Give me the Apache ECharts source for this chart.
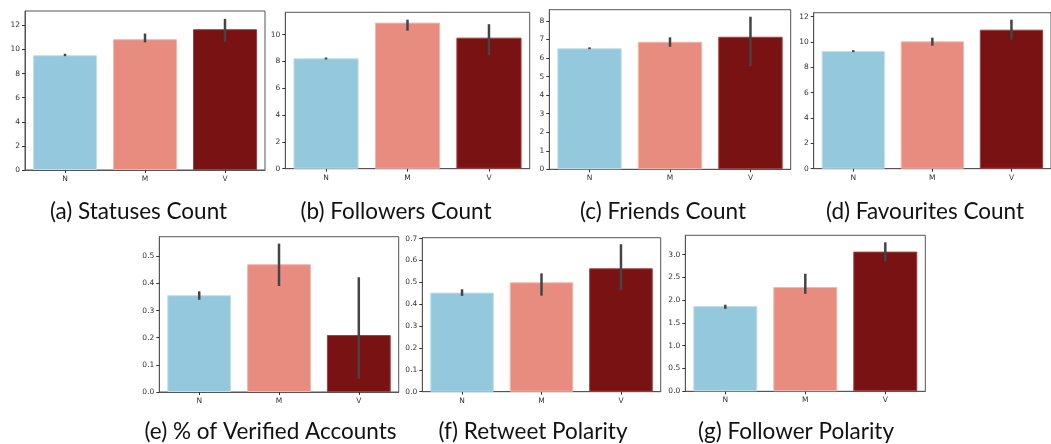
<!DOCTYPE html>
<html>
<head>
<meta charset="utf-8">
<script src="https://cdn.jsdelivr.net/npm/echarts@6/dist/echarts.min.js"></script>
<style>
html,body{margin:0;padding:0;background:#fff;}
#chart{width:1051px;height:444px;}
</style>
</head>
<body>
<div id="chart"></div>
<script>
// ---- data ----
const categories = ['N', 'M', 'V'];

const statusesMean = [9.53, 10.86, 11.69];
const statusesLow  = [9.45, 10.60, 10.64];
const statusesHigh = [9.65, 11.33, 12.55];

const followersMean = [8.24, 10.90, 9.78];
const followersLow  = [8.15, 10.30, 8.49];
const followersHigh = [8.30, 11.12, 10.78];

const friendsMean = [6.53, 6.88, 7.15];
const friendsLow  = [6.48, 6.61, 5.57];
const friendsHigh = [6.58, 7.12, 8.23];

const favouritesMean = [9.29, 10.05, 10.97];
const favouritesLow  = [9.20, 9.71, 10.18];
const favouritesHigh = [9.35, 10.34, 11.76];

const verifiedMean = [0.357, 0.471, 0.210];
const verifiedLow  = [0.340, 0.391, 0.049];
const verifiedHigh = [0.371, 0.547, 0.423];

const retweetMean = [0.453, 0.500, 0.564];
const retweetLow  = [0.438, 0.439, 0.464];
const retweetHigh = [0.468, 0.541, 0.674];

const followerPolMean = [1.873, 2.29, 3.066];
const followerPolLow  = [1.81, 2.14, 2.85];
const followerPolHigh = [1.90, 2.58, 3.27];

const captions = [
  '(a) Statuses Count', '(b) Followers Count', '(c) Friends Count', '(d) Favourites Count',
  '(e) % of Verified Accounts', '(f) Retweet Polarity', '(g) Follower Polarity'
];

const yMaxes = [13.2, 11.67, 8.61, 12.31, 0.5725, 0.704, 3.424];
const yIntervals = [2, 2, 1, 2, 0.1, 0.1, 0.5];
const yDecimals = [0, 0, 0, 0, 1, 1, 1];

// ---- layout / style ----
const panels = [
  {mean: statusesMean, low: statusesLow, high: statusesHigh},
  {mean: followersMean, low: followersLow, high: followersHigh},
  {mean: friendsMean, low: friendsLow, high: friendsHigh},
  {mean: favouritesMean, low: favouritesLow, high: favouritesHigh},
  {mean: verifiedMean, low: verifiedLow, high: verifiedHigh},
  {mean: retweetMean, low: retweetLow, high: retweetHigh},
  {mean: followerPolMean, low: followerPolLow, high: followerPolHigh}
];
const gridBoxes = [
  {left: 25, top: 11, width: 240, height: 159},
  {left: 285.3, top: 12.3, width: 244.4, height: 156.4},
  {left: 549.3, top: 9.7, width: 241.4, height: 159.6},
  {left: 813.7, top: 12.7, width: 241, height: 156},
  {left: 159.3, top: 236.7, width: 239.4, height: 155.3},
  {left: 422.3, top: 237.7, width: 238.4, height: 154},
  {left: 685.3, top: 235.3, width: 240, height: 156}
];
const captionPos = [
  [138.5, 212], [396, 212], [663, 212], [925, 212],
  [270.5, 432], [533, 432], [796, 432]
];
const barColors = ['#94c8dd', '#e88c80', '#791212'];
const edgeColors = ['#bfe0ec', '#f3b7ae', '#a04040'];

const grids = [], xAxes = [], yAxes = [], series = [], graphics = [];
panels.forEach((p, i) => {
  grids.push(Object.assign({show: true, borderColor: '#555', borderWidth: 1, backgroundColor: 'transparent'}, gridBoxes[i]));
  xAxes.push({
    type: 'category', gridIndex: i, data: categories,
    axisLine: {show: true, lineStyle: {color: '#555', width: 1}},
    axisTick: {show: true, alignWithLabel: true, length: 3, lineStyle: {color: '#333'}},
    axisLabel: {fontFamily: 'DejaVu Sans', fontSize: 7.5, color: '#333', margin: 5}
  });
  yAxes.push({
    type: 'value', gridIndex: i, min: 0, max: yMaxes[i], interval: yIntervals[i],
    splitLine: {show: false},
    axisLine: {show: true, lineStyle: {color: '#555', width: 1}},
    axisTick: {show: true, length: 3, lineStyle: {color: '#333'}},
    axisLabel: {
      fontFamily: 'DejaVu Sans', fontSize: 7.5, color: '#333', margin: 5, showMaxLabel: false,
      formatter: (v) => v.toFixed(yDecimals[i])
    }
  });
  series.push({
    type: 'bar', xAxisIndex: i, yAxisIndex: i, barCategoryGap: '20%',
    data: p.mean.map((v, k) => ({value: v, itemStyle: {color: barColors[k], borderColor: edgeColors[k], borderWidth: 1}})),
    silent: true, animation: false
  });
  series.push({
    type: 'custom', xAxisIndex: i, yAxisIndex: i, silent: true, animation: false, z: 5,
    data: p.mean.map((v, k) => [k, p.low[k], p.high[k]]),
    renderItem: (params, api) => {
      const a = api.coord([api.value(0), api.value(1)]);
      const b = api.coord([api.value(0), api.value(2)]);
      return {type: 'line', shape: {x1: a[0], y1: a[1], x2: b[0], y2: b[1]},
              style: {stroke: '#444', lineWidth: 2.5}};
    }
  });
  graphics.push({
    type: 'text', x: captionPos[i][0], y: captionPos[i][1],
    style: {text: captions[i], fontFamily: 'Lato', fontSize: 22.5, fill: '#111',
            textAlign: 'center', textVerticalAlign: 'middle'}
  });
});

const chart = echarts.init(document.getElementById('chart'), null, {renderer: 'canvas'});
chart.setOption({
  animation: false,
  grid: grids, xAxis: xAxes, yAxis: yAxes, series: series, graphic: graphics
});
</script>
</body>
</html>
